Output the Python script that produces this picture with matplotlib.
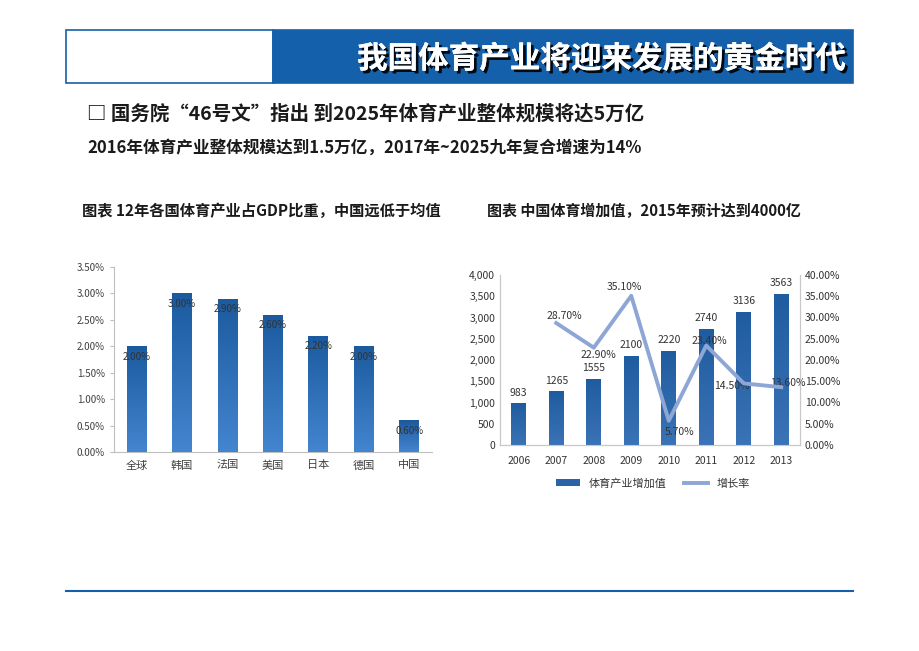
import numpy as np
import matplotlib
matplotlib.use('Agg')
import matplotlib.pyplot as plt
from matplotlib.patches import Rectangle
from matplotlib.ticker import FuncFormatter
import matplotlib.patheffects as pe

plt.rcParams['font.family'] = ['Noto Sans CJK SC', 'DejaVu Sans']

# ***************************
# Data
# ***************************
countries = ['全球', '韩国', '法国', '美国', '日本', '德国', '中国']
gdp_share = [2.0, 3.0, 2.9, 2.6, 2.2, 2.0, 0.6]

years = ['2006', '2007', '2008', '2009', '2010', '2011', '2012', '2013']
added_value = [983, 1265, 1555, 2100, 2220, 2740, 3136, 3563]
growth_years = ['2007', '2008', '2009', '2010', '2011', '2012', '2013']
growth_rate = [28.7, 22.9, 35.1, 5.7, 23.4, 14.5, 13.6]

# label offsets (pixels) for the growth-rate labels
growth_offsets = [(8, 7), (5, -7), (-7, 9), (11, -11), (3, 5), (-12, -3), (7, 4)]

W, H = 920, 651
fig = plt.figure(figsize=(W / 100, H / 100), dpi=100)


def fx(px):
    return px / W


def fy(py):
    return 1 - py / H


# ***************************
# Header
# ***************************
fig.patches.append(Rectangle((fx(66), fy(83)), fx(207), (83 - 30) / H, transform=fig.transFigure,
                             facecolor='white', edgecolor='#1560ab', lw=1.2))
fig.patches.append(Rectangle((fx(273), fy(83)), fx(580), (83 - 30) / H, transform=fig.transFigure,
                             facecolor='#1560ab', edgecolor='#1560ab', lw=1.2))
fig.text(fx(845), fy(59), '我国体育产业将迎来发展的黄金时代', color='white', fontsize=22,
         fontweight='bold', ha='right', va='center',
         path_effects=[pe.withSimplePatchShadow(offset=(2, -2), shadow_rgbFace='black', alpha=0.9),
                       pe.Normal()])

fig.text(fx(87), fy(114), '□ 国务院“46号文”指出 到2025年体育产业整体规模将达5万亿',
         fontsize=14, fontweight='bold', color='#1a1a1a', va='center')
fig.text(fx(87), fy(148), '2016年体育产业整体规模达到1.5万亿，2017年~2025九年复合增速为14%',
         fontsize=12, fontweight='bold', color='#1a1a1a', va='center')

fig.text(fx(82), fy(211), '图表 12年各国体育产业占GDP比重，中国远低于均值',
         fontsize=11, fontweight='bold', color='#1a1a1a', va='center')
fig.text(fx(487), fy(211), '图表 中国体育增加值，2015年预计达到4000亿',
         fontsize=10.8, fontweight='bold', color='#1a1a1a', va='center')

# bottom rule
fig.add_artist(plt.Line2D([fx(66), fx(853)], [fy(591), fy(591)], transform=fig.transFigure,
                          color='#1560ab', lw=1.5))


def gradient_bars(ax, x, vals, width, top_col, bot_col):
    bars = ax.bar(x, vals, width=width, color=top_col, zorder=2)
    grad = np.linspace(0, 1, 256).reshape(-1, 1)
    cmap = matplotlib.colors.LinearSegmentedColormap.from_list('g', [bot_col, top_col])
    for b in bars:
        bx, by = b.get_x(), b.get_y()
        im = ax.imshow(grad, cmap=cmap, origin='lower', aspect='auto', zorder=3,
                       extent=(bx, bx + b.get_width(), by, by + b.get_height()))
        im.set_clip_path(b)
    return bars


# ***************************
# Left chart
# ***************************
ax1 = fig.add_axes([fx(114), fy(452), fx(318), (452 - 267) / H])
x1 = np.arange(len(countries))
gradient_bars(ax1, x1, gdp_share, 0.44, '#1b5a9e', '#4485d0')
for i, v in enumerate(gdp_share):
    ax1.text(i, v - 0.2, f'{v:.2f}%', ha='center', va='center', fontsize=7, color='#333333', zorder=5)
ax1.set_xlim(-0.5, len(countries) - 0.5)
ax1.set_ylim(0, 3.5)
ax1.set_yticks(np.arange(0, 3.51, 0.5))
ax1.yaxis.set_major_formatter(FuncFormatter(lambda v, p: f'{v:.2f}%'))
ax1.set_xticks(x1)
ax1.set_xticklabels(countries)
ax1.tick_params(axis='y', labelsize=7, colors='#bfbfbf', labelcolor='#404040', length=3)
ax1.tick_params(axis='x', labelsize=8, length=0, labelcolor='#404040', pad=6)
for s in ['top', 'right']:
    ax1.spines[s].set_visible(False)
for s in ['left', 'bottom']:
    ax1.spines[s].set_color('#bfbfbf')

# ***************************
# Right chart
# ***************************
ax2 = fig.add_axes([fx(500), fy(445), fx(300), (445 - 275) / H])
x2 = np.arange(len(years))
gradient_bars(ax2, x2, added_value, 0.4, '#1f5c9f', '#3a73b6')
for i, v in enumerate(added_value):
    ax2.annotate(str(v), (i, v), xytext=(0, 4), textcoords='offset points',
                 ha='center', va='bottom', fontsize=7.5, color='#333333')
ax2.set_xlim(-0.5, len(years) - 0.5)
ax2.set_ylim(0, 4000)
ax2.set_yticks(np.arange(0, 4001, 500))
ax2.yaxis.set_major_formatter(FuncFormatter(lambda v, p: f'{int(v):,}'))
ax2.set_xticks(x2)
ax2.set_xticklabels(years)
ax2.tick_params(axis='both', labelsize=7.5, length=0, labelcolor='#333333')
ax2.tick_params(axis='x', pad=8)
ax2.spines['top'].set_visible(False)
for s in ['left', 'bottom', 'right']:
    ax2.spines[s].set_color('#c8c8c8')

ax3 = ax2.twinx()
gx = [years.index(y) for y in growth_years]
ax3.plot(gx, growth_rate, color='#8da6d6', lw=2.8, zorder=4, label='增长率')
for xx, v, (dx, dy) in zip(gx, growth_rate, growth_offsets):
    ax3.annotate(f'{v:.2f}%', (xx, v), xytext=(dx / 1.389, dy / 1.389), textcoords='offset points',
                 ha='center', va='center', fontsize=7.5, color='#333333')
ax3.set_ylim(0, 40)
ax3.set_yticks(np.arange(0, 40.1, 5))
ax3.yaxis.set_major_formatter(FuncFormatter(lambda v, p: f'{v:.2f}%'))
ax3.tick_params(axis='y', labelsize=7.5, length=0, labelcolor='#333333')
ax3.spines['top'].set_visible(False)
for s in ['left', 'bottom', 'right']:
    ax3.spines[s].set_color('#c8c8c8')

handles = [Rectangle((0, 0), 1, 1, facecolor='#2a64a6'),
           plt.Line2D([], [], color='#8da6d6', lw=2.8)]
ax2.legend(handles, ['体育产业增加值', '增长率'], loc='center', bbox_to_anchor=(0.51, -0.225),
           ncol=2, frameon=False, fontsize=8, handlelength=2.2, handleheight=0.6,
           columnspacing=1.5, labelcolor='#333333')

fig.savefig('out.png', dpi=100)
